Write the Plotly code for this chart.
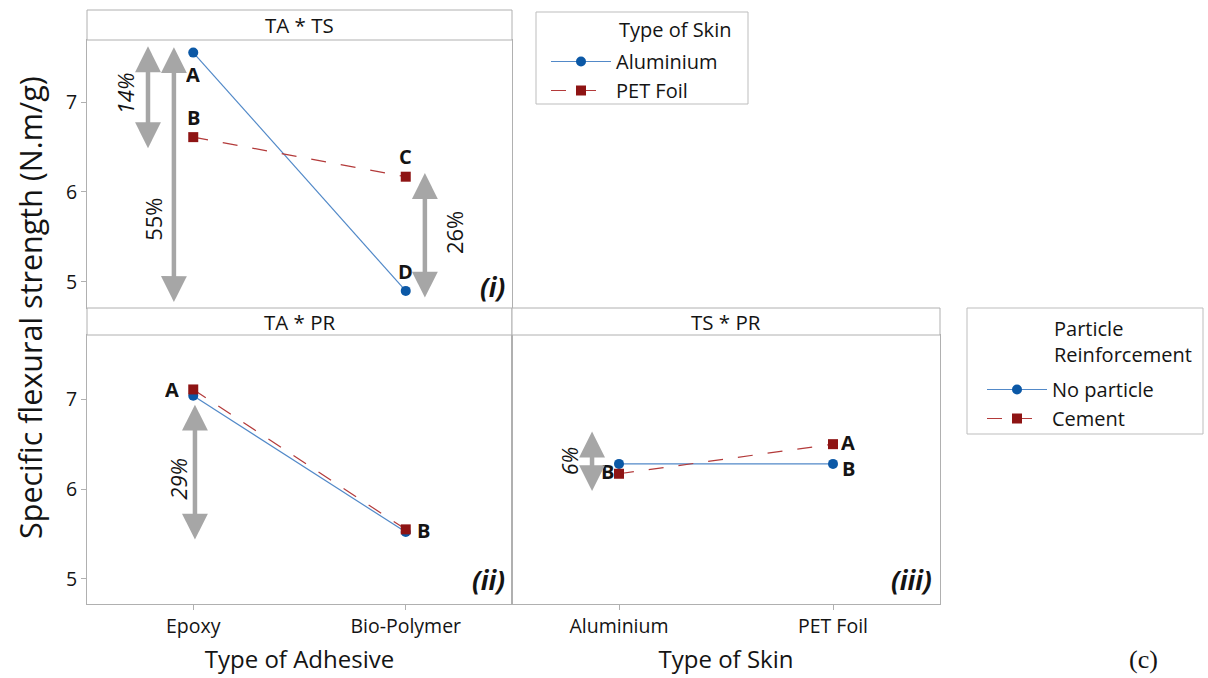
import plotly.graph_objects as go

# ---------------- data ----------------
adhesive = ["Epoxy", "Bio-Polymer"]
skin = ["Aluminium", "PET Foil"]

ta_ts_aluminium = [7.55, 4.90]   # TA * TS, skin = Aluminium
ta_ts_pet = [6.61, 6.17]         # TA * TS, skin = PET Foil
ta_pr_none = [7.04, 5.52]        # TA * PR, No particle
ta_pr_cement = [7.11, 5.55]      # TA * PR, Cement
ts_pr_none = [6.28, 6.28]        # TS * PR, No particle
ts_pr_cement = [6.17, 6.50]      # TS * PR, Cement

panel_titles = ["TA * TS", "TA * PR", "TS * PR"]
panel_tags = ["(i)", "(ii)", "(iii)"]
y_ticks = [5, 6, 7]

# ---------------- styling ----------------
W, H = 1208, 678
FONT = "Open Sans"
BLUE_L, BLUE_M = "#5289c8", "#0b58a6"
RED_L, RED_M = "#b33a3a", "#8e1414"
GRID = "#b0b0b0"
ARROW = "#a6a6a6"
TXT = "#141414"


def px(x):
    return x / W


def py(y):
    return 1 - y / H


fig = go.Figure()


def add_pair(xcats, yb, yr, xa, ya, names, legend, show):
    fig.add_trace(go.Scatter(
        x=xcats, y=yb, mode="lines+markers", name=names[0],
        line=dict(color=BLUE_L, width=1.2),
        marker=dict(color=BLUE_M, size=10, symbol="circle"),
        xaxis=xa, yaxis=ya, legend=legend, showlegend=show, legendgroup=names[0] + legend))
    fig.add_trace(go.Scatter(
        x=xcats, y=yr, mode="lines+markers", name=names[1],
        line=dict(color=RED_L, width=1.2, dash="longdash"),
        marker=dict(color=RED_M, size=10, symbol="square"),
        xaxis=xa, yaxis=ya, legend=legend, showlegend=show, legendgroup=names[1] + legend))


add_pair(adhesive, ta_ts_aluminium, ta_ts_pet, "x", "y", skin, "legend", True)
add_pair(adhesive, ta_pr_none, ta_pr_cement, "x2", "y2", ["No particle", "Cement"], "legend2", True)
add_pair(skin, ts_pr_none, ts_pr_cement, "x3", "y3", ["No particle", "Cement"], "legend2", False)

ax_common = dict(showgrid=False, zeroline=False, showline=True, mirror=True,
                 linecolor=GRID, linewidth=1, type="category", range=[-0.5, 1.5],
                 tickfont=dict(family=FONT, size=19.5, color=TXT))
y_common = dict(showgrid=False, zeroline=False, showline=True, mirror=True,
                linecolor=GRID, linewidth=1, tickvals=y_ticks,
                tickfont=dict(family=FONT, size=19.5, color=TXT))

xl = [px(87), px(512)]
xr = [px(512), px(940)]
yt = [py(308), py(40)]
yb = [py(604), py(335)]

LEG_FONT = dict(family=FONT, size=20, color=TXT)

fig.update_layout(
    width=W, height=H, margin=dict(l=0, r=0, t=0, b=0),
    paper_bgcolor="white", plot_bgcolor="white",
    font=dict(family=FONT, color=TXT),
    xaxis=dict(ax_common, domain=xl, anchor="y", showticklabels=False, ticks=""),
    yaxis=dict(y_common, domain=yt, anchor="x", range=[4.71, 7.69], ticks="outside",
               ticklen=5, tickcolor=GRID),
    xaxis2=dict(ax_common, domain=xl, anchor="y2", ticks="outside", ticklen=5, tickcolor=GRID,
                title=dict(text="Type of Adhesive", font=dict(family=FONT, size=24, color=TXT),
                           standoff=12)),
    yaxis2=dict(y_common, domain=yb, anchor="x2", range=[4.718, 7.717], ticks="outside",
                ticklen=5, tickcolor=GRID),
    xaxis3=dict(ax_common, domain=xr, anchor="y3", ticks="outside", ticklen=5, tickcolor=GRID,
                title=dict(text="Type of Skin", font=dict(family=FONT, size=24, color=TXT),
                           standoff=12)),
    yaxis3=dict(y_common, domain=yb, anchor="x3", range=[4.718, 7.717], showticklabels=False,
                ticks=""),
    legend=dict(x=px(546), y=py(42), xanchor="left", yanchor="top", bgcolor="rgba(0,0,0,0)",
                borderwidth=0, font=LEG_FONT, tracegroupgap=0, itemwidth=60),
    legend2=dict(x=px(982), y=py(370), xanchor="left", yanchor="top", bgcolor="rgba(0,0,0,0)",
                 borderwidth=0, font=LEG_FONT, tracegroupgap=0, itemwidth=60),
)

shapes = []
annotations = []

# strips
for (x0, x1, y0, y1), title in zip([(87, 512, 10, 40), (87, 512, 308, 335), (512, 940, 308, 335)],
                                   panel_titles):
    shapes.append(dict(type="rect", xref="paper", yref="paper", x0=px(x0), x1=px(x1),
                       y0=py(y1), y1=py(y0), line=dict(color=GRID, width=1),
                       fillcolor="white", layer="above"))
    annotations.append(dict(xref="paper", yref="paper", x=px((x0 + x1) / 2), y=py((y0 + y1) / 2),
                            text=title, showarrow=False, xanchor="center", yanchor="middle",
                            font=dict(family=FONT, size=20.5, color=TXT)))

# legend boxes
shapes.append(dict(type="rect", xref="paper", yref="paper", x0=px(536), x1=px(748),
                   y0=py(104), y1=py(12), line=dict(color="#bdbdbd", width=1)))
shapes.append(dict(type="rect", xref="paper", yref="paper", x0=px(967), x1=px(1203),
                   y0=py(434), y1=py(308), line=dict(color="#bdbdbd", width=1)))
annotations.append(dict(xref="paper", yref="paper", x=px(617), y=py(30), text="Type of Skin",
                        showarrow=False, xanchor="left", yanchor="middle",
                        font=LEG_FONT))
annotations.append(dict(xref="paper", yref="paper", x=px(1052), y=py(341),
                        text="Particle<br>Reinforcement", showarrow=False, xanchor="left",
                        yanchor="middle", align="left",
                        font=LEG_FONT))

# y-axis title
annotations.append(dict(xref="paper", yref="paper", x=px(30), y=py(308),
                        text="Specific flexural strength (N.m/g)", textangle=-90,
                        showarrow=False, xanchor="center", yanchor="middle",
                        font=dict(family=FONT, size=30.5, color=TXT)))

# (c)
annotations.append(dict(xref="paper", yref="paper", x=px(1143), y=py(659), text="(c)",
                        showarrow=False, xanchor="center", yanchor="middle",
                        font=dict(family="Liberation Serif", size=26, color=TXT)))

# panel tags
for (xr_, yr_), tag in zip([(507, 287), (507, 580), (934, 580)], panel_tags):
    annotations.append(dict(xref="paper", yref="paper", x=px(xr_), y=py(yr_),
                            text="<b><i>%s</i></b>" % tag, showarrow=False, xanchor="right",
                            yanchor="middle", font=dict(family=FONT, size=26, color=TXT)))


def letter(xa, ya, x, y, t, xs=0, ys=0):
    annotations.append(dict(xref=xa, yref=ya, x=x, y=y, text="<b>%s</b>" % t, showarrow=False,
                            xshift=xs, yshift=ys, xanchor="center", yanchor="middle",
                            height=20, font=dict(family=FONT, size=20, color=TXT)))


letter("x", "y", 0, ta_ts_aluminium[0], "A", 0, -21)
letter("x", "y", 0, ta_ts_pet[0], "B", 0, 20)
letter("x", "y", 1, ta_ts_pet[1], "C", 0, 21)
letter("x", "y", 1, ta_ts_aluminium[1], "D", 0, 20)
letter("x2", "y2", 0, ta_pr_cement[0], "A", -21, 0)
letter("x2", "y2", 1, ta_pr_cement[1], "B", 18, -1)
letter("x3", "y3", 0, ts_pr_cement[0], "B", -12, 3)
letter("x3", "y3", 1, ts_pr_cement[1], "A", 15, 2)
letter("x3", "y3", 1, ts_pr_none[1], "B", 15, -4)


def arrow(xa, ya, x, y0, y1):
    annotations.append(dict(xref=xa, yref=ya, axref=xa, ayref=ya, x=x, y=y1, ax=x, ay=y0,
                            text="", showarrow=True, arrowhead=2, arrowside="end+start",
                            arrowsize=1.15, arrowwidth=4.5, arrowcolor=ARROW,
                            standoff=0, startstandoff=0))


def pct(xa, ya, x, y, t, italic, size=22):
    txt = "<i>%s</i>" % t if italic else t
    annotations.append(dict(xref=xa, yref=ya, x=x, y=y, text=txt, textangle=-90,
                            showarrow=False, xanchor="center", yanchor="middle",
                            font=dict(family=FONT, size=size, color=TXT)))


arrow("x", "y", -0.213, 6.47, 7.62)
arrow("x", "y", -0.091, 4.76, 7.61)
arrow("x", "y", 1.09, 4.81, 6.21)
arrow("x2", "y2", 0.008, 5.42, 6.94)
arrow("x3", "y3", -0.126, 5.96, 6.64)

pct("x", "y", -0.32, 7.1, "14%", True)
pct("x", "y", -0.19, 5.7, "55%", False)
pct("x", "y", 1.23, 5.55, "26%", False)
pct("x2", "y2", -0.07, 6.12, "29%", True)
pct("x3", "y3", -0.23, 6.31, "6%", True, 21)

fig.update_layout(shapes=shapes, annotations=annotations)
fig.write_html("out.html")
